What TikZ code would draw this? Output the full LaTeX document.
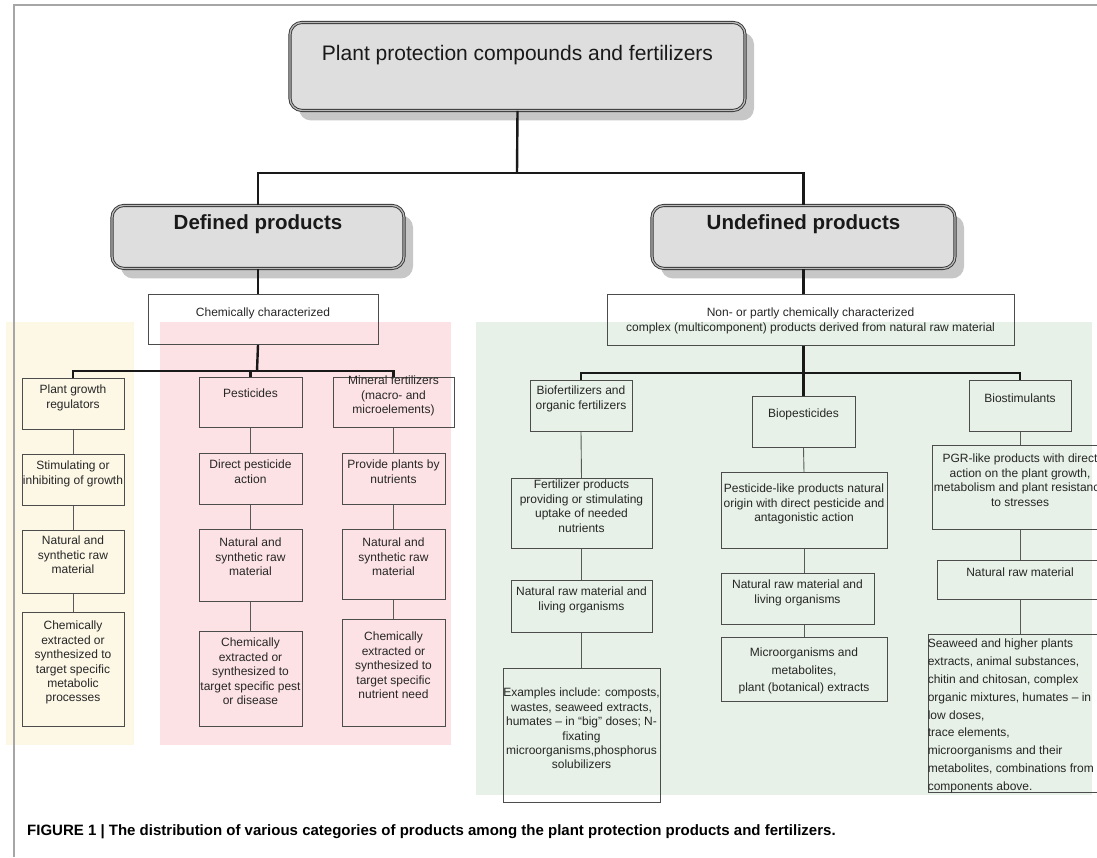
\documentclass[tikz,border=0pt]{standalone}
\usepackage{fontspec}
\setmainfont{Liberation Sans}
\usetikzlibrary{shadows}
\definecolor{headgray}{HTML}{DEDEDE}
\definecolor{zonecream}{HTML}{FDF7E6}
\definecolor{zonepink}{HTML}{FDE2E5}
\definecolor{zonegreen}{HTML}{E7F1E7}
\tikzset{
head box/.style={anchor=north,draw=black!80,line width=0.9pt,double=gray!55,double distance=1.3pt,fill=headgray,rounded corners=12pt,drop shadow={shadow xshift=9pt,shadow yshift=-10pt,fill=black!22,opacity=1}},
head text/.style={anchor=north,inner sep=0pt,text=black!90},
item box/.style={anchor=north,draw=black!70,line width=0.9pt,inner sep=0pt},
item text/.style={anchor=north,align=center,inner sep=0pt,text=black!85,font=\fontsize{12}{14.4}\selectfont},
bus line/.style={line width=2.4pt,black!90},
link line/.style={line width=0.9pt,black!65}}

\begin{document}
\begin{tikzpicture}[x=1pt,y=-1pt]

\useasboundingbox (0,0) rectangle (1097,857);
\clip (0,0) rectangle (1097,857);

% coloured zones
\fill[zonecream] (6,322) rectangle (134,745);
\fill[zonepink] (160,322) rectangle (451,745);
\fill[zonegreen] (476,322) rectangle (1092,795);
\draw[gray!70,line width=1.2pt] (1097,5) -- (14,5) -- (14,857);

% headings
\node[head box,minimum width=455pt,minimum height=88pt,label={[head text,yshift=-23pt]north:{\fontsize{21}{25}\selectfont Plant protection compounds and fertilizers}}] (top) at (517.5,22) {};
\node[head box,minimum width=292pt,minimum height=63pt,label={[head text,yshift=-9pt]north:{\bfseries\fontsize{20.5}{24}\selectfont Defined products}}] (def) at (258,205) {};
\node[head box,minimum width=303pt,minimum height=63pt,label={[head text,yshift=-9pt]north:{\bfseries\fontsize{20.5}{24}\selectfont Undefined products}}] (undef) at (803.5,205) {};

\node[item box,minimum width=230pt,minimum height=50pt,label={[item text,yshift=-14pt]north:{Chemically characterized}}] (chem) at (263,294) {};
\node[item box,minimum width=407pt,minimum height=51pt,label={[item text,yshift=-14pt]north:{Non- or partly chemically characterized\\complex (multicomponent) products derived from natural raw material}}] (non) at (810.5,294) {};

% defined products
\node[item box,minimum width=102pt,minimum height=51pt,label={[item text,yshift=-7pt]north:{Plant growth\\regulators}}] (pgr1) at (73,378) {};
\node[item box,minimum width=102pt,minimum height=51pt,label={[item text,yshift=-7pt]north:{Stimulating or\\inhibiting of growth}}] (pgr2) at (73,454) {};
\node[item box,minimum width=102pt,minimum height=63pt,label={[item text,yshift=-6pt]north:{Natural and\\synthetic raw\\material}}] (pgr3) at (73,530) {};
\node[item box,minimum width=102pt,minimum height=114pt,label={[item text,yshift=-9pt]north:{Chemically\\extracted or\\synthesized to\\target specific\\metabolic\\processes}}] (pgr4) at (73,612) {};

\node[item box,minimum width=103pt,minimum height=50pt,label={[item text,yshift=-12pt]north:{Pesticides}}] (pes1) at (250.5,377) {};
\node[item box,minimum width=103pt,minimum height=51pt,label={[item text,yshift=-7pt]north:{Direct pesticide\\action}}] (pes2) at (250.5,453) {};
\node[item box,minimum width=103pt,minimum height=72pt,label={[item text,yshift=-9pt]north:{Natural and\\synthetic raw\\material}}] (pes3) at (250.5,529) {};
\node[item box,minimum width=103pt,minimum height=95pt,label={[item text,yshift=-7pt]north:{Chemically\\extracted or\\synthesized to\\target specific pest\\or disease}}] (pes4) at (250.5,631) {};

\node[item box,minimum width=121pt,minimum height=50pt,label={[item text,yshift=1pt]north:{Mineral fertilizers\\(macro- and\\microelements)}}] (min1) at (393.5,377) {};
\node[item box,minimum width=103pt,minimum height=51pt,label={[item text,yshift=-7pt]north:{Provide plants by\\nutrients}}] (min2) at (393.5,453) {};
\node[item box,minimum width=103pt,minimum height=70pt,label={[item text,yshift=-9pt]north:{Natural and\\synthetic raw\\material}}] (min3) at (393.5,529) {};
\node[item box,minimum width=103pt,minimum height=107pt,label={[item text,yshift=-13pt]north:{Chemically\\extracted or\\synthesized to\\target specific\\nutrient need}}] (min4) at (393.5,619) {};

% undefined products
\node[item box,minimum width=102pt,minimum height=51pt,label={[item text,yshift=-6pt]north:{Biofertilizers and\\organic fertilizers}}] (bf1) at (581,380) {};
\node[item box,minimum width=141pt,minimum height=70pt,label={[item text,yshift=-2pt]north:{Fertilizer products\\providing or stimulating\\uptake of needed\\nutrients}}] (bf2) at (581.5,478) {};
\node[item box,minimum width=141pt,minimum height=52pt,label={[item text,yshift=-7pt]north:{Natural raw material and\\living organisms}}] (bf3) at (581.5,580) {};
\node[item box,minimum width=157pt,minimum height=134pt,label={[item text,yshift=-20pt]north:{Examples include: composts,\\wastes, seaweed extracts,\\humates – in “big” doses; N-\\fixating\\microorganisms,phosphorus\\solubilizers}}] (bf4) at (581.5,668) {};

\node[item box,minimum width=103pt,minimum height=51pt,label={[item text,yshift=-13pt]north:{Biopesticides}}] (bp1) at (803.5,396) {};
\node[item box,minimum width=166pt,minimum height=76pt,label={[item text,yshift=-12pt]north:{Pesticide-like products natural\\origin with direct pesticide and\\antagonistic action}}] (bp2) at (804,472) {};
\node[item box,minimum width=153pt,minimum height=51pt,label={[item text,yshift=-7pt]north:{Natural raw material and\\living organisms}}] (bp3) at (797.5,573) {};
\node[item box,minimum width=166pt,minimum height=64pt,label={[item text,yshift=-11pt,font=\fontsize{12}{17.5}\selectfont]north:{Microorganisms and\\metabolites,\\plant (botanical) extracts}}] (bp4) at (804,637) {};

\node[item box,minimum width=102pt,minimum height=51pt,label={[item text,yshift=-14pt]north:{Biostimulants}}] (bs1) at (1020,380) {};
\node[item box,minimum width=176pt,minimum height=84pt,label={[item text,yshift=-9pt]north:{PGR-like products with direct\\action on the plant growth,\\metabolism and plant resistance\\to stresses}}] (bs2) at (1020,445) {};
\node[item box,minimum width=166pt,minimum height=39pt,label={[item text,yshift=-8pt]north:{Natural raw material}}] (bs3) at (1020,560) {};
\node[item box,minimum width=184pt,minimum height=158pt,label={[item text,align=left,anchor=north west,yshift=-5pt,font=\fontsize{12}{17.8}\selectfont]north west:{Seaweed and higher plants\\extracts, animal substances,\\chitin and chitosan, complex\\organic mixtures, humates – in\\low doses,\\trace elements,\\microorganisms and their\\metabolites, combinations from\\components above.}}] (bs4) at (1020,634) {};

% caption
\node[anchor=west,inner sep=0pt,font=\bfseries\fontsize{15}{18}\selectfont] (cap) at (27,832) {FIGURE 1 | The distribution of various categories of products among the plant protection products and fertilizers.};

% connectors
\coordinate (topbus) at (517,173);
\coordinate (defbus) at (257,371);
\coordinate (undbus) at (803,373);
\draw[bus line] (top.south) -- (topbus);
\draw[bus line] (def.north) |- (topbus) -| (undef.north);
\draw[bus line] (def.south) -- (def.south |- chem.north);
\draw[bus line] (undef.south) -- (undef.south |- non.north);
\draw[bus line] (def.south |- chem.south) -- (defbus);
\draw[bus line] (pgr1.north) |- (defbus) -| (min1.north);
\draw[bus line] (defbus -| pes1.north) -- (pes1.north);
\draw[bus line] (undef.south |- non.south) -- (bp1.north);
\draw[bus line] (bf1.north) |- (undbus) -| (bs1.north);

\path[link line] (pgr1.south) edge (pgr2.north);
\path[link line] (pgr2.south) edge (pgr3.north);
\path[link line] (pgr3.south) edge (pgr4.north);
\path[link line] (pes1.south) edge (pes2.north);
\path[link line] (pes2.south) edge (pes3.north);
\path[link line] (pes3.south) edge (pes4.north);
\path[link line] (min1.south) edge (min2.north);
\path[link line] (min2.south) edge (min3.north);
\path[link line] (min3.south) edge (min4.north);
\path[link line] (bf1.south) edge (bf2.north);
\path[link line] (bf2.south) edge (bf3.north);
\path[link line] (bf3.south) edge (bf4.north);
\path[link line] (bp1.south) edge (bp2.north);
\path[link line] (bp2.south) edge (bp2.south |- bp3.north);
\path[link line] (bp2.south |- bp3.south) edge (bp4.north);
\path[link line] (bs1.south) edge (bs2.north);
\path[link line] (bs2.south) edge (bs3.north);
\path[link line] (bs3.south) edge (bs4.north);

\end{tikzpicture}
\end{document}
